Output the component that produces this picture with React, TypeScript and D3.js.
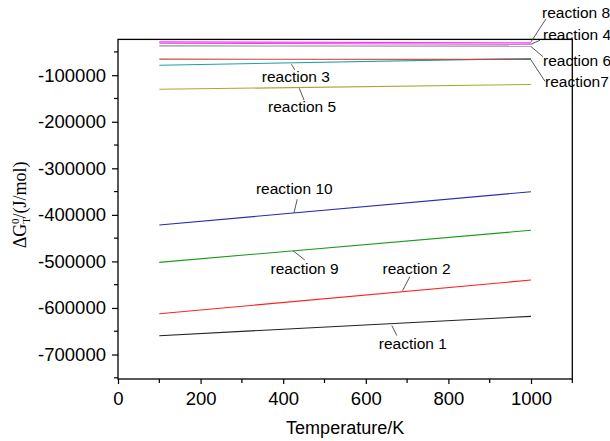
import React, { useEffect, useRef } from "react";
import * as d3 from "d3";

// temperatures at which each reaction line was plotted
const temperature = [100, 1000];

// ΔG values (J/mol) at 100 K and 1000 K
const reaction1 = [-659600, -618000];
const reaction2 = [-612300, -540000];
const reaction3 = [-78700, -64000];
const reaction4 = [-31500, -33500];
const reaction5 = [-130300, -120000];
const reaction6 = [-37000, -37500];
const reaction7 = [-65500, -66000];
const reaction8 = [-28500, -30500];
const reaction9 = [-502000, -433200];
const reaction10 = [-421800, -350300];

const xTicks = [0, 200, 400, 600, 800, 1000];
const xMinorTicks = [100, 300, 500, 700, 900, 1100];
const yTicks = [-100000, -200000, -300000, -400000, -500000, -600000, -700000];
const yMinorTicks = [-50000, -150000, -250000, -350000, -450000, -550000, -650000, -750000];

const series = [
  { name: "reaction 1", values: reaction1, color: "#222222" },
  { name: "reaction 2", values: reaction2, color: "#ff2020" },
  { name: "reaction 3", values: reaction3, color: "#20a0a0" },
  { name: "reaction 4", values: reaction4, color: "#e040e0" },
  { name: "reaction 5", values: reaction5, color: "#a8a830" },
  { name: "reaction 6", values: reaction6, color: "#909090" },
  { name: "reaction7", values: reaction7, color: "#c04848" },
  { name: "reaction 8", values: reaction8, color: "#ff30ff" },
  { name: "reaction 9", values: reaction9, color: "#1a9a1a" },
  { name: "reaction 10", values: reaction10, color: "#2a2ab0" },
];

// callout layout: temperature where the leader touches the line, pixel offsets
const callouts = {
  "reaction 1": { t: 663, p1: [0, 2], p2: [5, 12], text: [-13, 25.4] },
  "reaction 2": { t: 689, p1: [0, -1], p2: [7.3, -15], text: [-20, -17.7] },
  "reaction 3": { t: 420, p1: [0, 1.4], p2: [3.3, 7], text: [-29.7, 19.4] },
  "reaction 4": { t: 1000, p1: [0, 0], p2: [9, -4], text: [12, -4.3] },
  "reaction 5": { t: 439, p1: [0, 0.8], p2: [4.7, 12.5], text: [-31.3, 24.5] },
  "reaction 6": { t: 1000, p1: [0, 0.5], p2: [12, 10.6], text: [12, 19.6] },
  "reaction7": { t: 1000, p1: [0, 0.6], p2: [14, 22], text: [14, 27.6] },
  "reaction 8": { t: 1000, p1: [0, -1], p2: [15, -24], text: [11, -25] },
  "reaction 9": { t: 424, p1: [0, 0], p2: [11.7, 9.2], text: [-22.6, 23.2] },
  "reaction 10": { t: 426, p1: [0, 0], p2: [3.3, -13.7], text: [-38, -19] },
};

const W = 610;
const H = 441;
const margin = { top: 39.4, right: 37.7, bottom: 62, left: 118 };

function drawChart(svgEl) {
  const svg = d3.select(svgEl);
  svg.selectAll("*").remove();

  const x = d3.scaleLinear().domain([0, 1100]).range([margin.left, W - margin.right]);
  const y = d3.scaleLinear().domain([-752600, -23100]).range([H - margin.bottom, margin.top]);
  const sans = "'Liberation Sans', Arial, sans-serif";
  const plain = (d) => String(d); // hyphen minus, like the original

  svg.append("rect").attr("width", W).attr("height", H).attr("fill", "#fff");

  // lines
  const line = d3
    .line()
    .x((d) => x(d[0]))
    .y((d) => y(d[1]));

  series.forEach((s) => {
    svg
      .append("path")
      .datum(temperature.map((t, i) => [t, s.values[i]]))
      .attr("fill", "none")
      .attr("stroke", s.color)
      .attr("stroke-width", 1.1)
      .attr("d", line);
  });

  // frame
  svg
    .append("rect")
    .attr("x", x(0))
    .attr("y", y(-23100))
    .attr("width", x(1100) - x(0))
    .attr("height", y(-752600) - y(-23100))
    .attr("fill", "none")
    .attr("stroke", "#000")
    .attr("stroke-width", 1.3);

  // x axis
  const xAxis = svg
    .append("g")
    .attr("transform", "translate(0," + (H - margin.bottom) + ")")
    .call(d3.axisBottom(x).tickValues(xTicks).tickSize(5).tickSizeOuter(0).tickFormat(plain));
  xAxis.select(".domain").remove();
  xAxis.selectAll("line").attr("stroke-width", 1.2);
  xAxis
    .selectAll("text")
    .attr("y", 26)
    .attr("dy", 0)
    .attr("font-family", sans)
    .attr("font-size", 18.5)
    .attr("fill", "#000");
  svg
    .append("g")
    .selectAll("line")
    .data(xMinorTicks)
    .join("line")
    .attr("x1", (d) => x(d))
    .attr("x2", (d) => x(d))
    .attr("y1", H - margin.bottom)
    .attr("y2", H - margin.bottom + 4)
    .attr("stroke", "#000")
    .attr("stroke-width", 1.2);

  // y axis
  const yAxis = svg
    .append("g")
    .attr("transform", "translate(" + margin.left + ",0)")
    .call(d3.axisLeft(y).tickValues(yTicks).tickSize(6).tickSizeOuter(0).tickPadding(6).tickFormat(plain));
  yAxis.select(".domain").remove();
  yAxis.selectAll("line").attr("stroke-width", 1.2);
  yAxis
    .selectAll("text")
    .attr("font-family", sans)
    .attr("font-size", 18.5)
    .attr("fill", "#000");
  svg
    .append("g")
    .selectAll("line")
    .data(yMinorTicks)
    .join("line")
    .attr("x1", margin.left - 4)
    .attr("x2", margin.left)
    .attr("y1", (d) => y(d))
    .attr("y2", (d) => y(d))
    .attr("stroke", "#000")
    .attr("stroke-width", 1.2);

  // axis titles
  svg
    .append("text")
    .attr("x", (x(0) + x(1100)) / 2)
    .attr("y", 434)
    .attr("text-anchor", "middle")
    .attr("font-family", sans)
    .attr("font-size", 18)
    .text("Temperature/K");

  const yTitle = svg
    .append("text")
    .attr("transform", "translate(26," + (y(-400000) - 10) + ") rotate(-90)")
    .attr("text-anchor", "middle")
    .attr("font-family", "'Liberation Serif', 'Times New Roman', serif")
    .attr("font-size", 18);
  yTitle.append("tspan").text("\u0394G");
  yTitle.append("tspan").attr("font-size", 11).attr("dy", 4).text("T");
  yTitle.append("tspan").attr("font-size", 11).attr("dx", -7).attr("dy", -11).text("0");
  yTitle.append("tspan").attr("dy", 7).text("/(J/mol)");

  // callouts
  series.forEach((s) => {
    const c = callouts[s.name];
    const v = d3.scaleLinear().domain(temperature).range(s.values)(c.t);
    const ax = x(c.t);
    const ay = y(v);
    svg
      .append("line")
      .attr("x1", ax + c.p1[0])
      .attr("y1", ay + c.p1[1])
      .attr("x2", ax + c.p2[0])
      .attr("y2", ay + c.p2[1])
      .attr("stroke", "#444")
      .attr("stroke-width", 0.9);
    svg
      .append("text")
      .attr("x", ax + c.text[0])
      .attr("y", ay + c.text[1])
      .attr("font-family", sans)
      .attr("font-size", 15.5)
      .attr("fill", "#000")
      .text(s.name);
  });
}

const App = () => {
  const svgEl = useRef(null);

  useEffect(() => {
    if (!svgEl.current) return;
    drawChart(svgEl.current);
  }, [svgEl]);

  return (
    <svg
      ref={svgEl}
      width={W}
      height={H}
      style={{ position: "absolute", left: 0, top: 0, display: "block" }}
    ></svg>
  );
};

export default App;
